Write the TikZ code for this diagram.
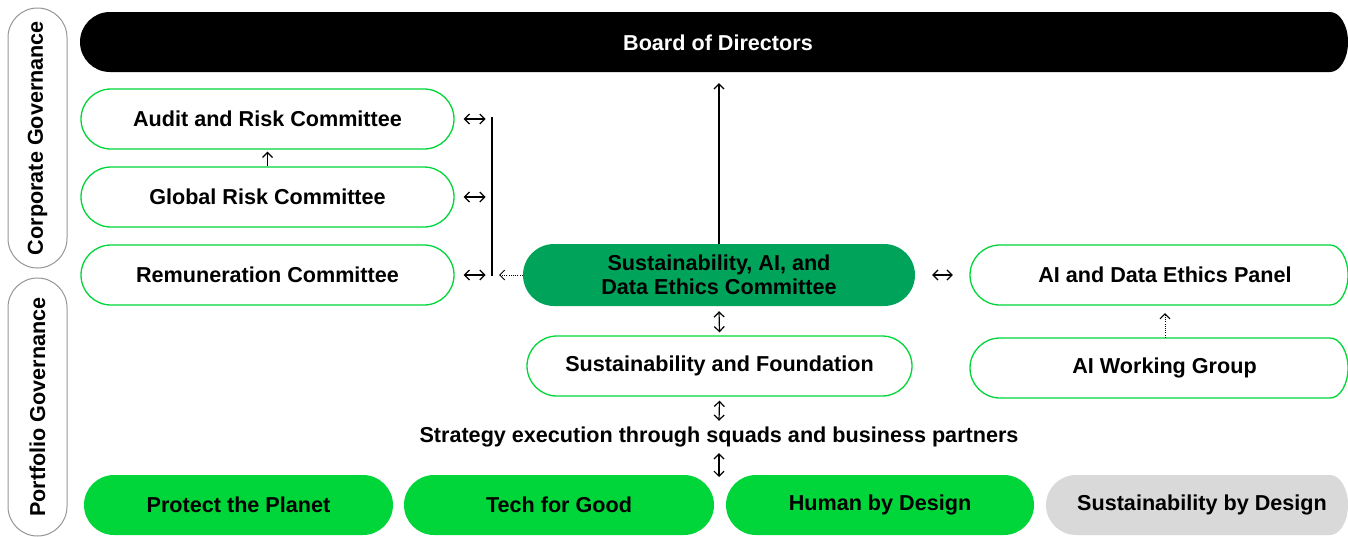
\documentclass[tikz,border=0pt]{standalone}
\usepackage{fontspec}
\setmainfont{Liberation Sans}
\usetikzlibrary{arrows.meta,calc}
\definecolor{brgreen}{RGB}{0,214,58}
\definecolor{dkgreen}{RGB}{0,163,90}
\definecolor{lgray}{RGB}{217,217,217}
\definecolor{pgray}{RGB}{150,150,150}
\newcommand\cutpill[4]{%
  \path[#1] ({#2+30},#3) -- (1330,#3)
    .. controls (1339.94,#3) and (1348,{(#3+#4)/2-16.57}) .. (1348,{(#3+#4)/2})
    .. controls (1348,{(#3+#4)/2+16.57}) and (1339.94,#4) .. (1330,#4)
    -- ({#2+30},#4)
    .. controls ({#2+13.43},#4) and (#2,{(#3+#4)/2+16.57}) .. (#2,{(#3+#4)/2})
    .. controls (#2,{(#3+#4)/2-16.57}) and ({#2+13.43},#3) .. ({#2+30},#3) -- cycle;}
\begin{document}
\begin{tikzpicture}[x=1pt,y=-1pt,
  font=\fontsize{21.6}{23.5}\selectfont\bfseries,
  pillw/.style={draw=brgreen, line width=1.3pt, fill=white, rounded corners=30pt,
    minimum height=60pt, inner sep=0pt, align=center},
  pillf/.style={fill=brgreen, rounded corners=30pt, minimum height=60pt, inner sep=0pt, align=center},
  boxlabel/.style={minimum height=60pt, inner sep=0pt, align=center},
  sidepill/.style={draw=pgray, line width=1pt, rounded corners=29.5pt, rotate=90,
    minimum height=59pt, inner sep=0pt},
  onehead/.style={-{Straight Barb[length=5pt,width=10pt]}, line width=1.2pt},
  twohead/.style={{Straight Barb[length=5pt,width=10pt]}-{Straight Barb[length=5pt,width=10pt]}, line width=1.2pt},
  dottedline/.style={dash pattern=on 1pt off 1.2pt, line width=1pt}]
\useasboundingbox (0,0) rectangle (1348,536);
\begin{scope}
\clip (0,0) rectangle (1348,536);
% side labels
\node[sidepill, minimum width=260pt] (cg) at (37.5,138) {Corporate Governance};
\node[sidepill, minimum width=258pt] (pg) at (37.5,407) {Portfolio Governance};
% board
\cutpill{fill=black}{80}{12}{72}
\node[boxlabel, text=white] (board) at (718,43) {Board of Directors};
% left committees
\node[pillw, minimum width=373pt] (aud) at (267.5,119) {Audit and Risk Committee};
\node[pillw, minimum width=373pt] (grc) at (267.5,197) {Global Risk Committee};
\node[pillw, minimum width=373pt] (rem) at (267.5,275) {Remuneration Committee};
% central
\node[pillf, fill=dkgreen, minimum width=392pt, minimum height=62pt, rounded corners=31pt] (saide) at (719,275) {Sustainability, AI, and\\Data Ethics Committee};
\node[pillw, minimum width=385pt] (sf) at (719.5,366) {\raisebox{-1pt}{Sustainability and Foundation}};
\node[inner sep=0pt, minimum height=32pt] (strat) at (719,437) {\raisebox{-1pt}{Strategy execution through squads and business partners}};
% right
\cutpill{draw=brgreen, line width=1.3pt, fill=white}{970}{245}{305}
\node[boxlabel, minimum width=378pt] (panel) at (1159,275) {\hspace*{12pt}AI and Data Ethics Panel};
\cutpill{draw=brgreen, line width=1.3pt, fill=white}{970}{338}{398}
\node[boxlabel, minimum width=378pt] (wg) at (1159,368) {\hspace*{11pt}\raisebox{-1pt}{AI Working Group}};
% bottom row
\node[pillf, minimum width=309pt] (ptp) at (238.5,505) {\raisebox{-1pt}{Protect the Planet}};
\node[pillf, minimum width=310pt] (tfg) at (559,505) {\raisebox{-1pt}{Tech for Good}};
\node[pillf, minimum width=308pt] (hbd) at (880,505) {\raisebox{-1pt}{Human by Design}};
\cutpill{fill=lgray}{1046}{475}{535}
\node[boxlabel, minimum width=302pt] (sbd) at (1197,505) {\hspace*{10pt}\raisebox{-1pt}{Sustainability by Design}};
% connectors
\coordinate (bt) at (492,117);
\coordinate (bb) at (492,276);
\draw[line width=1.2pt] (bt) -- (bb);
\draw[twohead] ([xshift=9pt]aud.east) -- ([xshift=31pt]aud.east);
\draw[twohead] ([xshift=9pt]grc.east) -- ([xshift=31pt]grc.east);
\draw[twohead] ([xshift=9pt]rem.east) -- ([xshift=31pt]rem.east);
\coordinate (dt) at (499,275);
\draw[dottedline, -{Straight Barb[length=5pt,width=10pt]}] (saide.west) -- (dt);
\draw[onehead] (grc.north) -- ([yshift=-2pt]aud.south);
\draw[onehead] (saide.north) -- ($(saide.north |- board.south)+(0,10)$);
\draw[twohead] ([xshift=17pt]saide.east) -- ([xshift=-17pt]panel.west);
\draw[dottedline, -{Straight Barb[length=5pt,width=10pt]}] ([xshift=6pt]wg.north) -- ([xshift=6pt,yshift=-8pt]panel.south);
\draw[twohead] ([yshift=-5pt]saide.south) -- ([yshift=3pt]sf.north);
\draw[twohead] ([yshift=-4pt]sf.south) -- (strat.north);
\coordinate (hd) at (719,477);
\draw[twohead] (strat.south) -- (hd);
\end{scope}
\end{tikzpicture}
\end{document}
